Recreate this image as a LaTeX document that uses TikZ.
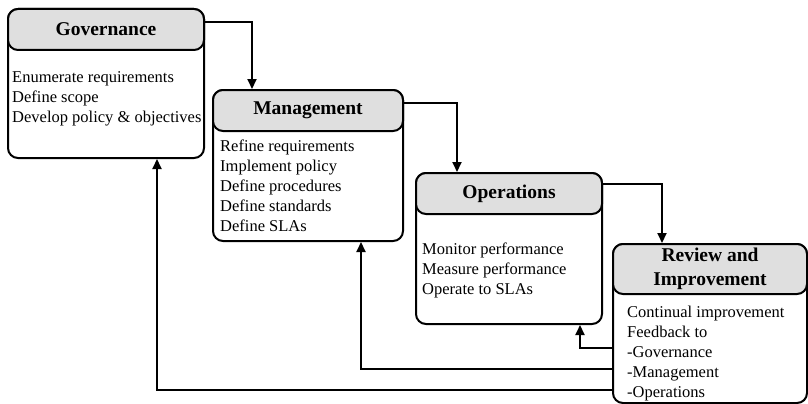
\documentclass[tikz,border=0pt]{standalone}
\usepackage{fontspec}
\setmainfont{Liberation Serif}
\usetikzlibrary{arrows.meta}
\definecolor{hdrgray}{HTML}{DFDFDF}
\tikzset{
  box/.style={draw, line width=2pt, rounded corners=10pt, fill=white, anchor=north west, inner sep=0pt},
  hdr/.style={draw, line width=2pt, rounded corners=10pt, fill=hdrgray, anchor=north west, inner sep=0pt,
              align=center, font=\fontsize{19.5}{24}\selectfont\bfseries},
  body/.style={anchor=north west, align=left, inner sep=0pt, font=\fontsize{16.5}{20}\selectfont},
  conn/.style={line width=2pt, -{Triangle[length=10pt,width=9pt]}}
}
\begin{document}
\begin{tikzpicture}[x=1pt,y=-1pt]
\useasboundingbox (0,0) rectangle (808,404);
% Governance
\node[box, minimum width=196pt, minimum height=149pt] (gov) at (7,8) {};
\node[hdr, minimum width=196pt, minimum height=41pt] (govh) at (gov.north west) {Governance};
\node[body] (govt) at (12,71) {Enumerate requirements\\Define scope\\Develop policy \& objectives};
% Management
\node[box, minimum width=190pt, minimum height=151pt] (mgmt) at (212,89) {};
\node[hdr, minimum width=190pt, minimum height=41pt] (mgmth) at (mgmt.north west) {Management};
\node[body] (mgmtt) at (220,140) {Refine requirements\\Implement policy\\Define procedures\\Define standards\\Define SLAs};
% Operations
\node[box, minimum width=186pt, minimum height=151pt] (ops) at (415,172) {};
\node[hdr, minimum width=186pt, minimum height=41pt] (opsh) at (ops.north west) {Operations};
\node[body] (opst) at (422,243) {Monitor performance\\Measure performance\\Operate to SLAs};
% Review
\node[box, minimum width=194pt, minimum height=159pt] (rev) at (612,243) {};
\node[hdr, minimum width=194pt, minimum height=50pt] (revh) at (rev.north west) {Review and\\Improvement};
\node[body] (revt) at (627,306) {Continual improvement\\Feedback to\\-Governance\\-Management\\-Operations};
% connectors
\draw[conn] ([yshift=-14pt]govh.north east) -| ([xshift=40pt]mgmt.north west);
\draw[conn] ([yshift=-14pt]mgmth.north east) -| ([xshift=42pt]ops.north west);
\draw[conn] ([yshift=-12pt]opsh.north east) -| ([xshift=50pt]rev.north west);
\draw[conn] ([yshift=-105pt]rev.north west) -| ([xshift=165pt]ops.south west);
\draw[conn] ([yshift=-126pt]rev.north west) -| ([xshift=149pt]mgmt.south west);
\draw[conn] ([yshift=-147pt]rev.north west) -| ([xshift=150pt]gov.south west);
\end{tikzpicture}
\end{document}
